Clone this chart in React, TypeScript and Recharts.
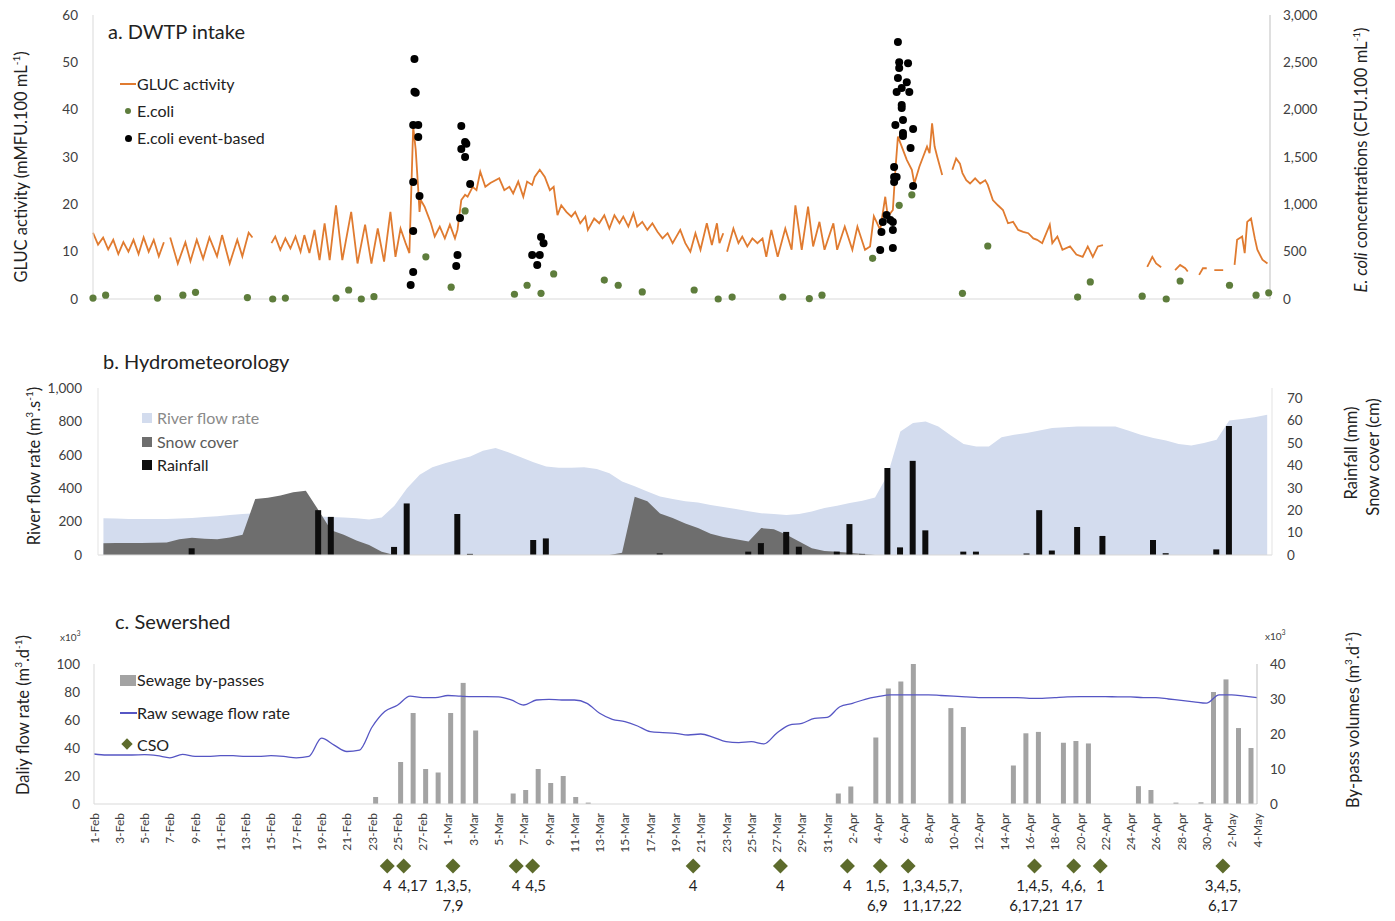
import React from 'react';
import { ComposedChart, Line, Scatter, Area, Bar, XAxis, YAxis, ReferenceLine } from 'recharts';

const FONT = 'Lato, "Open Sans", sans-serif';
const TICK = { fontSize: 13.5, fill: '#404040', fontFamily: FONT };

// ---- a. DWTP intake ----
// GLUC activity (mMFU.100 mL-1), sub-daily readings as [day, value]; null marks a gap
const GLUC: [number, number | null][] = [
  [0, 14], [0.4, 11.5], [0.8, 13], [1.2, 10.5], [1.6, 12.5], [2.0, 9.5], [2.4, 12], [2.8, 10], [3.2, 12.5],
  [3.6, 9.5], [4.0, 13], [4.4, 10], [4.8, 12.5], [5.2, 9], [5.6, 12], [5.85, null],
  [6.1, 13], [6.7, 7.5], [7.3, 12], [7.7, 8], [8.2, 12.5], [8.7, 8.5], [9.2, 13], [9.8, 9], [10.2, 13.5],
  [10.8, 7.5], [11.4, 12.5], [11.8, 9], [12.3, 14], [12.6, 13], [13.3, null],
  [14.1, 11.8], [14.4, 13.2], [14.8, 10.4], [15.2, 12.8], [15.6, 10.7], [16.0, 13.2], [16.4, 10], [16.7, 13.5],
  [17.1, 9.7], [17.5, 14.6], [17.9, 8.2], [18.3, 16], [18.7, 8.2], [19.2, 19.8], [19.7, 8.2], [20.4, 18.4],
  [20.9, 7.5], [21.5, 15.7], [22.0, 7.5], [22.5, 14.9], [23.0, 7.9], [23.5, 18.4], [23.9, 8.9], [24.3, 14.9],
  [24.7, 11.8], [25.0, 9.7], [25.3, 36.4], [25.5, 31.5], [25.7, 23], [25.8, 18.4], [25.9, 20.9], [26.2, 19.5],
  [26.5, 17.4], [26.7, 16], [27.0, 13.2], [27.4, 15.3], [27.8, 12.8], [28.2, 15.7], [28.6, 12.8], [28.8, 14.6],
  [29.1, 20.9], [29.4, 22], [29.6, 21.6], [30.0, 23.7], [30.3, 23], [30.6, 26.9], [31.0, 23.7], [31.4, 24.5],
  [32.1, 25.5], [32.5, 23], [32.9, 23.7], [33.2, 22.3], [33.6, 24.8], [34.0, 21.6], [34.3, 24.8], [34.7, 24.1],
  [34.9, 25.8], [35.3, 27.3], [35.7, 25.8], [36.1, 23], [36.4, 23.7], [36.7, 17.7], [37.0, 19.8], [37.4, 18.4],
  [37.8, 17.4], [38.1, 18.4], [38.5, 16], [38.9, 17.4], [39.1, 14.6], [39.6, 17], [40.0, 16], [40.4, 17.7],
  [40.8, 14.9], [41.2, 17.7], [41.6, 16], [41.9, 17.4], [42.3, 15.3], [42.7, 18.1], [43.0, 15.3], [43.4, 16.3],
  [43.8, 14.6], [44.2, 16], [44.6, 14.2], [45.0, 12.8], [45.4, 13.9], [45.8, 11.8], [46.4, 14.6], [46.8, 11.8],
  [47.2, 10], [47.6, 13.9], [48.0, 10.4], [48.5, 16], [48.9, 11.4], [49.3, 16], [49.5, 11.8], [49.8, 13.9],
  [49.95, null],
  [50.1, 10], [50.6, 14.9], [51.0, 11.8], [51.3, 13.2], [51.7, 11.1], [52.1, 12.8], [52.5, 11.8], [52.9, 12.8],
  [53.2, 8.9], [53.6, 14.6], [54.1, 8.9], [54.7, 14.9], [55.2, 10.4], [55.5, 19.8], [56.0, 10.4], [56.5, 19.5],
  [56.9, 11.1], [57.4, 16.3], [57.8, 10.4], [58.5, 16], [58.8, 10.4], [59.4, 15.3], [60.0, 10.4], [60.4, 15.3],
  [61.0, 10.4], [61.4, 11.1], [61.7, 17.5], [62.2, 14.6], [62.6, 21.6], [62.8, 17.4], [63.2, 18.8], [63.4, 27.3],
  [63.6, 34.3], [64.0, 31.5], [64.3, 29.4], [64.7, 27.3], [64.9, 24.4], [65.3, 28], [65.6, 30.1], [65.9, 32.2],
  [66.1, 30.8], [66.3, 37.1], [66.5, 32.2], [66.7, 30.1], [67.1, 26.2], [67.5, null],
  [67.9, 27.3], [68.2, 29.7], [68.5, 28.6], [68.7, 26.6], [69.0, 25.1], [69.3, 24.4], [69.7, 25.5], [70.1, 24.4],
  [70.5, 25.1], [70.7, 24.1], [71.1, 20.9], [71.5, 19.8], [71.9, 18.8], [72.3, 16], [72.7, 16.3], [73.1, 14.6],
  [73.5, 14.2], [73.9, 13.9], [74.3, 12.8], [74.6, 12.5], [75.0, 11.8], [75.6, 15.7], [75.8, 11.8], [76.2, 13.2],
  [76.6, 10.4], [77.2, 11.1], [77.7, 9.4], [78.2, 8.9], [78.6, 11.1], [79.0, 8.9], [79.4, 11.1], [79.8, 11.4],
  [81, null],
  [83.3, 6.8], [83.7, 8.9], [84.0, 7.5], [84.4, 6.7], [84.9, null],
  [85.5, 6.1], [85.9, 7.2], [86.3, 6.5], [86.5, 5.8], [87, null],
  [87.4, 5.1], [87.7, 6.5], [88.0, 6.5], [88.3, null],
  [88.6, 6.1], [89.3, 6.1], [89.8, null],
  [90.2, 7.2], [90.4, 12.5], [90.8, 13.2], [91.0, 9.7], [91.2, 16.3], [91.5, 17], [91.8, 12.8], [92.0, 10.4],
  [92.4, 8.3], [92.8, 7.5],
];

// E. coli routine samples (CFU.100 mL-1) as [day, value]
const ECOLI: [number, number][] = [
  [0, 10], [1.0, 40], [5.1, 10], [7.1, 40], [8.1, 70], [12.2, 15], [14.2, 0], [15.2, 10], [19.2, 10], [20.2, 95],
  [21.2, 0], [22.2, 25], [26.3, 445], [28.3, 125], [29.4, 930], [33.3, 50], [34.3, 145], [35.4, 60], [36.4, 265],
  [40.4, 200], [41.5, 145], [43.4, 75], [47.5, 95], [49.4, 0], [50.5, 20], [54.5, 20], [56.6, 5], [57.6, 40],
  [61.6, 430], [63.7, 990], [64.7, 1100], [68.7, 60], [70.7, 560], [77.8, 20], [78.8, 180], [82.9, 30], [84.8, 0],
  [85.9, 190], [89.8, 145], [91.9, 40], [92.9, 65],
];

// E. coli event-based sampling (CFU.100 mL-1)
const ECOLI_EVENT: [number, number][] = [
  [25.4, 2535], [25.4, 2190], [25.5, 2180], [25.3, 1838], [25.7, 1838], [25.7, 1711], [25.3, 1236], [25.8, 1088],
  [25.3, 718], [25.3, 285], [25.1, 148],
  [29.1, 1827], [29.1, 1584], [29.4, 1658], [29.5, 1640], [29.4, 1500], [29.8, 1215], [29.0, 855], [28.8, 465], [28.7, 349],
  [35.4, 655], [35.6, 590], [34.7, 465], [35.3, 465], [35.1, 360],
  [63.6, 2715], [63.7, 2500], [64.4, 2490], [63.7, 2440], [63.6, 2335], [64.3, 2290], [63.5, 2187], [63.9, 2229],
  [64.5, 2187], [63.9, 2050], [63.9, 2018], [64.0, 1890], [63.4, 1838], [64.8, 1796], [64.0, 1753], [64.0, 1722],
  [64.6, 1595], [63.3, 1394], [63.3, 1289], [63.5, 1289], [63.3, 1236], [64.8, 1194], [62.7, 887], [62.4, 813],
  [63.0, 834], [63.2, 813], [62.3, 708], [63.2, 729], [62.2, 518], [63.2, 539],
];

// ---- b. Hydrometeorology (daily, 1-Feb .. 4-May) ----
const RIVER_FLOW = [
  220, 218, 215, 215, 215, 215, 218, 222, 228, 232,
  240, 245, 250, 250, 245, 240, 235, 230, 228, 225,
  220, 212, 225, 295, 400, 480, 525, 550, 570, 590,
  625, 640, 615, 585, 555, 530, 522, 522, 525, 515,
  490, 440, 412, 380, 350, 335, 322, 315, 300, 288,
  275, 262, 250, 245, 240, 245, 260, 282, 295, 312,
  325, 345, 480, 740, 790, 800, 770, 715, 665, 650,
  650, 705, 720, 730, 745, 760, 765, 770, 770, 770,
  770, 745, 720, 700, 685, 665, 655, 670, 690, 805,
  815, 825, 840,
];

const SNOW_COVER = [
  5.2, 5.3, 5.4, 5.4, 5.5, 5.6, 7.0, 7.7, 7.2, 7.0,
  7.8, 9.0, 25, 25.5, 26.5, 28, 28.7, 20, 11, 9,
  6.5, 4.5, 1.5, 0, 0, 0, 0, 0, 0, 0,
  0, 0, 0, 0, 0, 0, 0, 0, 0, 0,
  0, 1, 26, 24, 18.5, 16.5, 14, 12, 9.5, 8,
  7, 6, 12, 11.5, 9, 6, 3, 1.8, 1.5, 1,
  0.5, 0, 0, 0, 0, 0, 0, 0, 0, 0,
  0, 0, 0, 0, 0, 0, 0, 0, 0, 0,
  0, 0, 0, 0, 0, 0, 0, 0, 0, 0,
  0, 0, 0,
];

// rainfall (mm) as [day, value]
const RAINFALL: [number, number][] = [
  [7, 3], [17, 20], [18, 17], [23, 3.6], [24, 23], [28, 18.3], [29, 0.5], [34, 6.7], [35, 7.4], [44, 0.7],
  [51, 1.5], [52, 5.3], [54, 10.3], [55, 3.7], [58, 1.5], [59, 13.8], [60, 0.5], [62, 38.8], [63, 3.4], [64, 42],
  [65, 11], [68, 1.5], [69, 1.5], [73, 0.7], [74, 20], [75, 2], [77, 12.5], [79, 8.5], [83, 6.7], [84, 0.8],
  [88, 2.5], [89, 57.5],
];

// ---- c. Sewershed ----
// raw sewage flow rate (x10^3 m3/d), daily
const RAW_SEWAGE = [
  35.7, 35, 35, 35, 35.2, 34.5, 33, 35.5, 34, 34,
  34.5, 34.5, 34, 34, 34.5, 34, 33, 34, 47, 42,
  37.5, 38.5, 55, 66, 70.5, 77, 76, 76, 77.5, 77,
  76.7, 76.7, 76.5, 74.3, 70.7, 74.3, 74.8, 74.3, 74.3, 71.9,
  64.8, 60.5, 58.8, 55.7, 51.7, 51, 50.5, 49.3, 50, 47.6,
  44.5, 43.8, 44.5, 42.9, 50.5, 56.4, 57.6, 61.2, 61.9, 69.5,
  71.9, 74.8, 76.7, 78, 78, 78, 78, 77.5, 77, 76.5,
  76, 76, 76, 76, 75.5, 75.5, 76, 76.5, 76.7, 76.7,
  76.7, 76.5, 76.5, 76, 76, 75, 74, 73, 72, 77.9,
  78, 77, 76,
];

// sewage by-pass volumes (x10^3 m3/d) as [day, value]
const BYPASS: [number, number][] = [
  [22, 2], [24, 12], [25, 26], [26, 10], [27, 9], [28, 26], [29, 34.6], [30, 21], [33, 3], [34, 4],
  [35, 10], [36, 6], [37, 8], [38, 2], [39, 0.4], [59, 3], [60, 5], [62, 19], [63, 33], [64, 35],
  [65, 40], [68, 27.4], [69, 22], [73, 11], [74, 20.2], [75, 20.6], [77, 17.5], [78, 18], [79, 17.3],
  [83, 5.1], [84, 4], [86, 0.4], [88, 0.5], [89, 32], [90, 35.6], [91, 21.7], [92, 16],
];

// combined sewer overflows: day and outfall numbers
const CSO: [number, string[]][] = [
  [23.2, ['4']], [24.5, ['4,17']], [28.4, ['1,3,5,', '7,9']], [33.4, ['4']], [34.7, ['4,5']],
  [47.4, ['4']], [54.3, ['4']], [59.6, ['4']], [62.2, ['1,5,', '6,9']], [64.4, ['1,3,4,5,7,', '11,17,22']],
  [74.4, ['1,4,5,', '6,17,21']], [77.5, ['4,6,', '17']], [79.6, ['1']], [89.3, ['3,4,5,', '6,17']],
];

const DATE_LABELS = [
  '1-Feb', '3-Feb', '5-Feb', '7-Feb', '9-Feb', '11-Feb', '13-Feb', '15-Feb', '17-Feb', '19-Feb', '21-Feb',
  '23-Feb', '25-Feb', '27-Feb', '1-Mar', '3-Mar', '5-Mar', '7-Mar', '9-Mar', '11-Mar', '13-Mar', '15-Mar',
  '17-Mar', '19-Mar', '21-Mar', '23-Mar', '25-Mar', '27-Mar', '29-Mar', '31-Mar', '2-Apr', '4-Apr', '6-Apr',
  '8-Apr', '10-Apr', '12-Apr', '14-Apr', '16-Apr', '18-Apr', '20-Apr', '22-Apr', '24-Apr', '26-Apr',
  '28-Apr', '30-Apr', '2-May', '4-May',
];

// label nudges under the CSO markers (px)
const CSO_LABEL_DX: Record<number, number> = { 24.5: 9, 34.7: 3, 62.2: -3, 64.4: 24 };

const glucData = GLUC.map(([t, v]) => ({ t, v }));
const ecoliData = ECOLI.map(([t, c]) => ({ t, c }));
const eventData = ECOLI_EVENT.map(([t, c]) => ({ t, c }));

const rainByDay = new Map(RAINFALL);
const hydroData = RIVER_FLOW.map((q, d) => ({ day: d, river: q, snow: SNOW_COVER[d], rain: rainByDay.get(d) ?? null }));

const bypassByDay = new Map(BYPASS);
const sewerData = RAW_SEWAGE.map((q, d) => ({ day: d, raw: q, bypass: bypassByDay.get(d) ?? null }));
const csoData = CSO.map(([day, labels]) => ({ day, base: 0, labels }));
const dateTicks = DATE_LABELS.map((_, i) => i * 2);

const fmtThousands = (v: number) => v.toLocaleString('en-US');

const Txt = ({ x, y, size = 16, color = '#222', children, anchor = 'start' }: any) => (
  <div
    style={{
      position: 'absolute', left: x, top: y, fontSize: size, color, fontFamily: FONT, whiteSpace: 'nowrap',
      lineHeight: 1, transform: `translate(${anchor === 'middle' ? '-50%' : '0'}, -50%)`,
    }}
  >
    {children}
  </div>
);

const VTxt = ({ x, y, size = 16, color = '#222', children }: any) => (
  <div
    style={{
      position: 'absolute', left: x, top: y, fontSize: size, color, fontFamily: FONT, whiteSpace: 'nowrap',
      lineHeight: 1, transform: 'translate(-50%, -50%) rotate(-90deg)',
    }}
  >
    {children}
  </div>
);

const Dot = (fill: string, r: number) => (p: any) => <circle cx={p.cx} cy={p.cy} r={r} fill={fill} />;

const DateTick = (props: any) => {
  const { x, y, payload } = props;
  const label = DATE_LABELS[Math.round(payload.value / 2)];
  const ty = y + 9;
  return (
    <text x={x} y={ty} transform={`rotate(-90, ${x}, ${ty})`} textAnchor="end" dominantBaseline="central"
      fontSize={12} fill="#404040" fontFamily={FONT}>
      {label}
    </text>
  );
};

// diamond below the date axis with the outfall numbers underneath
const CsoMark = (props: any) => {
  const { cx, cy, payload } = props;
  const y = cy + 62;
  const dx = CSO_LABEL_DX[payload.day] ?? 0;
  return (
    <g>
      <polygon points={`${cx},${y - 7.5} ${cx + 7.5},${y} ${cx},${y + 7.5} ${cx - 7.5},${y}`} fill="#5d6b2c" />
      {payload.labels.map((s: string, i: number) => (
        <text key={i} x={cx + dx} y={y + 19 + i * 20} textAnchor="middle" dominantBaseline="central"
          fontSize={15} fill="#222" fontFamily={FONT}>
          {s}
        </text>
      ))}
    </g>
  );
};

export default function App() {
  return (
    <div style={{ position: 'absolute', left: 0, top: 0, width: 1395, height: 921, background: '#fff', overflow: 'hidden' }}>
      {/* a. DWTP intake */}
      <div style={{ position: 'absolute', left: 0, top: 0 }}>
        <ComposedChart width={1395} height={310} data={glucData} margin={{ top: 15, right: 65, bottom: 11, left: 33 }}>
          <XAxis type="number" dataKey="t" domain={[0, 93]} hide />
          <YAxis yAxisId="l" domain={[0, 60]} ticks={[0, 10, 20, 30, 40, 50, 60]} width={60}
            tickLine={false} tickSize={0} tickMargin={15} axisLine={{ stroke: '#d9d9d9' }} tick={TICK} />
          <YAxis yAxisId="r" orientation="right" domain={[0, 3000]} ticks={[0, 500, 1000, 1500, 2000, 2500, 3000]}
            width={60} tickLine={false} tickSize={0} tickMargin={13} axisLine={{ stroke: '#bfbfbf' }}
            tick={TICK} tickFormatter={fmtThousands} />
          <ReferenceLine yAxisId="l" y={0} stroke="#d9d9d9" />
          <Line yAxisId="l" dataKey="v" type="linear" stroke="#e07b30" strokeWidth={1.8} dot={false}
            connectNulls={false} isAnimationActive={false} />
          <Scatter yAxisId="r" data={ecoliData} dataKey="c" shape={Dot('#5e7d3c', 3.6)} isAnimationActive={false} />
          <Scatter yAxisId="r" data={eventData} dataKey="c" shape={Dot('#000', 4)} isAnimationActive={false} />
        </ComposedChart>
      </div>

      {/* b. Hydrometeorology */}
      <div style={{ position: 'absolute', left: 0, top: 380 }}>
        <ComposedChart width={1395} height={185} data={hydroData} margin={{ top: 8, right: 63, bottom: 10, left: 38 }}>
          <XAxis type="number" dataKey="day" domain={[-0.43, 92.38]} hide allowDataOverflow />
          <YAxis yAxisId="l" domain={[0, 1000]} ticks={[0, 200, 400, 600, 800, 1000]} width={60}
            tickLine={false} tickSize={0} tickMargin={16} axisLine={{ stroke: '#e3e3e3' }} tick={TICK}
            tickFormatter={fmtThousands} />
          <YAxis yAxisId="r" orientation="right" domain={[0, 74.5]} ticks={[0, 10, 20, 30, 40, 50, 60, 70]} width={60}
            tickLine={false} tickSize={0} tickMargin={15} axisLine={{ stroke: '#e3e3e3' }} tick={TICK} />
          <ReferenceLine yAxisId="l" y={0} stroke="#d9d9d9" />
          <Area yAxisId="l" dataKey="river" type="linear" stroke="none" fill="#d3dcee" fillOpacity={1}
            isAnimationActive={false} />
          <Area yAxisId="r" dataKey="snow" type="linear" stroke="none" fill="#6e6e6e" fillOpacity={1}
            isAnimationActive={false} />
          <Bar yAxisId="r" dataKey="rain" barSize={6} fill="#0d0d0d" isAnimationActive={false} />
        </ComposedChart>
      </div>

      {/* c. Sewershed */}
      <div style={{ position: 'absolute', left: 0, top: 600 }}>
        <ComposedChart width={1395} height={321} data={sewerData} margin={{ top: 64, right: 78, bottom: 72, left: 34 }}>
          <XAxis xAxisId="c" type="number" dataKey="day" domain={[-0.5, 92.5]} hide height={0} />
          <XAxis xAxisId="d" type="number" dataKey="day" domain={[0, 92]} ticks={dateTicks} interval={0}
            height={45} tickLine={false} tickSize={0} tickMargin={0} axisLine={{ stroke: '#d9d9d9' }}
            tick={<DateTick />} />
          <YAxis yAxisId="l" domain={[0, 100]} ticks={[0, 20, 40, 60, 80, 100]} width={60}
            tickLine={false} tickSize={0} tickMargin={14} axisLine={{ stroke: '#d9d9d9' }} tick={TICK} />
          <YAxis yAxisId="r" orientation="right" domain={[0, 40]} ticks={[0, 10, 20, 30, 40]} width={60}
            tickLine={false} tickSize={0} tickMargin={13} axisLine={{ stroke: '#bfbfbf' }} tick={TICK} />
          <Bar xAxisId="c" yAxisId="r" dataKey="bypass" barSize={5} fill="#a3a3a3" isAnimationActive={false} />
          <Line xAxisId="d" yAxisId="l" dataKey="raw" type="monotone" stroke="#5656c4" strokeWidth={1.3} dot={false}
            isAnimationActive={false} />
          <Scatter xAxisId="d" yAxisId="l" data={csoData} dataKey="base" shape={CsoMark} isAnimationActive={false} />
        </ComposedChart>
      </div>

      {/* titles */}
      <Txt x={108} y={31} size={20}>a. DWTP intake</Txt>
      <Txt x={103} y={361} size={20}>b. Hydrometeorology</Txt>
      <Txt x={115} y={621} size={20}>c. Sewershed</Txt>

      {/* legend a */}
      <div style={{ position: 'absolute', left: 120, top: 83, width: 16, height: 2, background: '#e07b30' }} />
      <Txt x={137} y={84}>GLUC activity</Txt>
      <div style={{ position: 'absolute', left: 125, top: 108, width: 6, height: 6, borderRadius: 3, background: '#5e7d3c' }} />
      <Txt x={137} y={111}>E.coli</Txt>
      <div style={{ position: 'absolute', left: 125, top: 135, width: 7, height: 7, borderRadius: 4, background: '#000' }} />
      <Txt x={137} y={138}>E.coli event-based</Txt>

      {/* legend b */}
      <div style={{ position: 'absolute', left: 142, top: 413, width: 10, height: 10, background: '#d3dcee' }} />
      <Txt x={157} y={418} color="#8a8a8a">River flow rate</Txt>
      <div style={{ position: 'absolute', left: 142, top: 437, width: 10, height: 10, background: '#6e6e6e' }} />
      <Txt x={157} y={442} color="#5a5a5a">Snow cover</Txt>
      <div style={{ position: 'absolute', left: 142, top: 460, width: 10, height: 10, background: '#0d0d0d' }} />
      <Txt x={157} y={465} color="#222">Rainfall</Txt>

      {/* legend c */}
      <div style={{ position: 'absolute', left: 120, top: 675, width: 16, height: 11, background: '#a3a3a3' }} />
      <Txt x={137} y={680}>Sewage by-passes</Txt>
      <div style={{ position: 'absolute', left: 120, top: 712, width: 17, height: 1.5, background: '#5656c4' }} />
      <Txt x={137} y={713}>Raw sewage flow rate</Txt>
      <div style={{ position: 'absolute', left: 123, top: 740, width: 8, height: 8, background: '#5d6b2c', transform: 'rotate(45deg)' }} />
      <Txt x={137} y={745}>CSO</Txt>

      {/* axis titles */}
      <VTxt x={20} y={167} size={16.5}>GLUC activity (mMFU.100 mL<sup style={{ fontSize: 10 }}>-1</sup>)</VTxt>
      <VTxt x={1360} y={160} size={16.5}>
        <i>E. coli</i> concentrations (CFU.100 mL<sup style={{ fontSize: 10 }}>-1</sup>)
      </VTxt>
      <VTxt x={33} y={466} size={16.5}>River flow rate (m<sup style={{ fontSize: 10 }}>3</sup>.s<sup style={{ fontSize: 10 }}>-1</sup>)</VTxt>
      <VTxt x={1351} y={453} size={16.5}>Rainfall (mm)</VTxt>
      <VTxt x={1373} y={457} size={16.5}>Snow cover (cm)</VTxt>
      <VTxt x={22} y={715} size={16.5}>Daliy flow rate (m<sup style={{ fontSize: 10 }}>3</sup>.d<sup style={{ fontSize: 10 }}>-1</sup>)</VTxt>
      <VTxt x={1352} y={720} size={16.5}>By-pass volumes (m<sup style={{ fontSize: 10 }}>3</sup>.d<sup style={{ fontSize: 10 }}>-1</sup>)</VTxt>
      <Txt x={60} y={636} size={10} color="#404040">x10<sup style={{ fontSize: 7 }}>3</sup></Txt>
      <Txt x={1265} y={635} size={10} color="#404040">x10<sup style={{ fontSize: 7 }}>3</sup></Txt>
    </div>
  );
}
